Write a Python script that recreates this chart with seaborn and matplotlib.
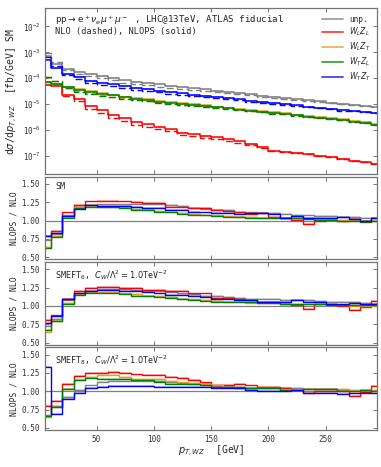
import numpy as np
import matplotlib
matplotlib.use("Agg")
import matplotlib.pyplot as plt
from matplotlib.lines import Line2D
import seaborn as sns

# bin centres [GeV]
pt = [5, 15, 25, 35, 45, 55, 65, 75, 85, 95,
      105, 115, 125, 135, 145, 155, 165, 175, 185, 195,
      205, 215, 225, 235, 245, 255, 265, 275, 285, 295]

labels = ["unp.", "$W_L Z_L$", "$W_L Z_T$", "$W_T Z_L$", "$W_T Z_T$"]
colors = ["grey", "red", "#e0a020", "green", "blue"]

# NLOPS differential cross sections, SM [fb/GeV]
xs_unp = [7.0e-4, 3.6e-4, 2.2e-4, 1.75e-4, 1.45e-4, 1.2e-4, 1.0e-4, 8.3e-5, 7.3e-5, 6.5e-5,
          5.8e-5, 5.1e-5, 4.6e-5, 4.1e-5, 3.7e-5, 3.3e-5, 2.95e-5, 2.65e-5, 2.4e-5, 2.15e-5,
          1.95e-5, 1.75e-5, 1.57e-5, 1.41e-5, 1.27e-5, 1.14e-5, 1.03e-5, 9.3e-6, 8.5e-6, 7.7e-6]
xs_LL = [5.5e-5, 5.0e-5, 2.3e-5, 1.6e-5, 8.5e-6, 5.8e-6, 3.8e-6, 2.9e-6, 2.0e-6, 1.65e-6,
         1.3e-6, 1.05e-6, 7.8e-7, 6.8e-7, 6.0e-7, 5.2e-7, 4.4e-7, 3.6e-7, 2.9e-7, 2.2e-7,
         1.6e-7, 1.45e-7, 1.3e-7, 1.15e-7, 1.0e-7, 9.0e-8, 7.8e-8, 6.5e-8, 5.6e-8, 4.8e-8]
xs_LT = [7.0e-5, 6.0e-5, 4.5e-5, 3.7e-5, 3.1e-5, 2.6e-5, 2.3e-5, 1.95e-5, 1.7e-5, 1.52e-5,
         1.32e-5, 1.2e-5, 1.06e-5, 9.7e-6, 8.9e-6, 8.1e-6, 7.3e-6, 6.6e-6, 5.9e-6, 5.3e-6,
         4.8e-6, 4.35e-6, 3.9e-6, 3.5e-6, 3.2e-6, 2.85e-6, 2.55e-6, 2.25e-6, 2.0e-6, 1.75e-6]
xs_TL = [7.2e-5, 5.9e-5, 4.4e-5, 3.6e-5, 3.0e-5, 2.5e-5, 2.2e-5, 1.85e-5, 1.6e-5, 1.45e-5,
         1.25e-5, 1.15e-5, 1.0e-5, 9.2e-6, 8.4e-6, 7.6e-6, 6.9e-6, 6.2e-6, 5.6e-6, 5.0e-6,
         4.5e-6, 4.1e-6, 3.7e-6, 3.3e-6, 3.0e-6, 2.7e-6, 2.4e-6, 2.1e-6, 1.85e-6, 1.6e-6]
xs_TT = [5.3e-4, 2.4e-4, 1.45e-4, 1.1e-4, 8.0e-5, 6.8e-5, 5.8e-5, 5.0e-5, 4.3e-5, 3.8e-5,
         3.3e-5, 2.9e-5, 2.6e-5, 2.3e-5, 2.1e-5, 1.9e-5, 1.7e-5, 1.53e-5, 1.38e-5, 1.24e-5,
         1.11e-5, 1.0e-5, 9.0e-6, 8.1e-6, 7.3e-6, 6.6e-6, 5.9e-6, 5.4e-6, 5.0e-6, 4.6e-6]

# NLOPS / NLO ratios, SM
sm_unp = [0.73, 0.82, 1.07, 1.18, 1.21, 1.22, 1.22, 1.22, 1.22, 1.22,
          1.22, 1.21, 1.20, 1.17, 1.16, 1.15, 1.14, 1.12, 1.11, 1.10,
          1.10, 1.09, 1.08, 1.07, 1.06, 1.06, 1.05, 1.05, 1.04, 1.03]
sm_LL = [0.79, 0.86, 1.11, 1.21, 1.26, 1.27, 1.27, 1.26, 1.25, 1.24,
         1.24, 1.19, 1.19, 1.17, 1.17, 1.15, 1.13, 1.11, 1.09, 1.10,
         1.05, 1.04, 1.01, 0.95, 1.00, 1.01, 1.00, 1.02, 1.00, 1.03]
sm_LT = [0.64, 0.79, 1.05, 1.19, 1.20, 1.19, 1.19, 1.18, 1.16, 1.15,
         1.13, 1.12, 1.10, 1.09, 1.08, 1.07, 1.06, 1.05, 1.05, 1.04,
         1.04, 1.03, 1.03, 1.03, 1.02, 1.01, 1.01, 1.01, 0.99, 1.00]
sm_TL = [0.63, 0.78, 1.04, 1.17, 1.19, 1.18, 1.18, 1.17, 1.15, 1.14,
         1.12, 1.11, 1.09, 1.08, 1.07, 1.06, 1.05, 1.05, 1.04, 1.04,
         1.04, 1.03, 1.03, 1.02, 1.01, 1.01, 1.00, 1.00, 0.98, 0.99]
sm_TT = [0.79, 0.83, 1.06, 1.16, 1.21, 1.20, 1.20, 1.20, 1.19, 1.17,
         1.17, 1.14, 1.14, 1.12, 1.11, 1.10, 1.10, 1.09, 1.10, 1.10,
         1.09, 1.04, 1.06, 1.03, 1.03, 1.04, 1.05, 1.02, 0.99, 1.03]

# NLOPS / NLO ratios, SMEFT dim-6
d6_unp = [0.73, 0.82, 1.08, 1.18, 1.21, 1.23, 1.23, 1.23, 1.22, 1.21,
          1.20, 1.19, 1.17, 1.16, 1.14, 1.13, 1.12, 1.11, 1.10, 1.09,
          1.09, 1.08, 1.08, 1.08, 1.07, 1.06, 1.06, 1.05, 1.04, 1.03]
d6_LL = [0.81, 0.87, 1.10, 1.20, 1.25, 1.26, 1.26, 1.25, 1.24, 1.22,
         1.22, 1.20, 1.20, 1.17, 1.17, 1.11, 1.11, 1.10, 1.08, 1.05,
         1.06, 1.02, 1.01, 0.96, 1.03, 1.02, 1.00, 0.94, 0.98, 1.07]
d6_LT = [0.65, 0.79, 1.04, 1.16, 1.19, 1.19, 1.19, 1.17, 1.16, 1.14,
         1.13, 1.12, 1.10, 1.09, 1.08, 1.07, 1.06, 1.05, 1.04, 1.04,
         1.04, 1.03, 1.03, 1.02, 1.02, 1.01, 1.01, 1.00, 1.00, 1.00]
d6_TL = [0.67, 0.79, 1.03, 1.15, 1.18, 1.17, 1.17, 1.16, 1.14, 1.13,
         1.12, 1.11, 1.09, 1.08, 1.07, 1.06, 1.06, 1.05, 1.05, 1.04,
         1.04, 1.03, 1.02, 1.02, 1.02, 1.01, 1.01, 1.01, 1.01, 1.01]
d6_TT = [0.77, 0.86, 1.09, 1.17, 1.20, 1.22, 1.22, 1.21, 1.21, 1.19,
         1.17, 1.15, 1.15, 1.13, 1.12, 1.10, 1.10, 1.08, 1.08, 1.06,
         1.05, 1.05, 1.08, 1.06, 1.05, 1.03, 1.02, 1.04, 1.02, 1.03]

# NLOPS / NLO ratios, SMEFT dim-8
d8_unp = [0.67, 0.80, 0.92, 1.02, 1.08, 1.13, 1.14, 1.14, 1.14, 1.14,
          1.14, 1.13, 1.11, 1.10, 1.10, 1.07, 1.06, 1.05, 1.05, 1.04,
          1.04, 1.04, 1.04, 1.03, 1.03, 1.03, 1.02, 1.01, 1.01, 1.00]
d8_LL = [0.80, 0.87, 1.10, 1.21, 1.25, 1.25, 1.26, 1.25, 1.23, 1.22,
         1.22, 1.19, 1.18, 1.16, 1.12, 1.09, 1.09, 1.10, 1.08, 1.06,
         1.06, 1.05, 1.02, 0.97, 1.01, 1.01, 1.01, 0.94, 0.99, 1.07]
d8_LT = [0.65, 0.78, 1.03, 1.16, 1.20, 1.22, 1.22, 1.19, 1.17, 1.17,
         1.17, 1.14, 1.12, 1.11, 1.10, 1.08, 1.06, 1.05, 1.05, 1.04,
         1.04, 1.03, 1.03, 1.03, 1.03, 1.03, 1.03, 1.02, 1.02, 1.02]
d8_TL = [0.66, 0.78, 1.03, 1.15, 1.18, 1.17, 1.17, 1.17, 1.15, 1.15,
         1.12, 1.10, 1.10, 1.10, 1.08, 1.06, 1.06, 1.06, 1.04, 1.04,
         1.04, 1.02, 1.02, 1.03, 1.03, 1.03, 1.01, 1.01, 1.02, 1.01]
d8_TT = [1.33, 0.69, 0.90, 0.98, 1.04, 1.06, 1.07, 1.07, 1.07, 1.07,
         1.06, 1.06, 1.06, 1.06, 1.06, 1.04, 1.04, 1.04, 1.02, 1.00,
         1.00, 1.00, 1.02, 0.98, 0.98, 0.98, 0.96, 0.97, 0.97, 0.97]

xs_all = [xs_unp, xs_LL, xs_LT, xs_TL, xs_TT]
ratio_panels = [
    ("SM", [sm_unp, sm_LL, sm_LT, sm_TL, sm_TT]),
    (r"SMEFT$_6$, $C_W/\Lambda^2 = 1.0$TeV$^{-2}$", [d6_unp, d6_LL, d6_LT, d6_TL, d6_TT]),
    (r"SMEFT$_8$, $C_W/\Lambda^2 = 1.0$TeV$^{-2}$", [d8_unp, d8_LL, d8_LT, d8_TL, d8_TT]),
]

sns.set_style("ticks")
plt.rcParams["font.family"] = ["DejaVu Sans Mono", "DejaVu Sans"]
plt.rcParams["mathtext.fontset"] = "dejavusans"
edge = "0.45"


def style_axis(ax):
    for sp in ax.spines.values():
        sp.set_color(edge)
        sp.set_linewidth(0.9)
    ax.tick_params(direction="in", top=True, right=True, length=3, width=0.7,
                   color=edge, labelsize=5.5, labelcolor="0.2")
    ax.tick_params(which="minor", left=False, right=False, top=False, bottom=False)


fig, axes = plt.subplots(4, 1, figsize=(3.81, 4.67), dpi=100, sharex=True,
                         gridspec_kw={"height_ratios": [2, 1, 1, 1]})
fig.subplots_adjust(left=0.118, right=0.99, top=0.982, bottom=0.079, hspace=0.025)

# main panel
ax = axes[0]
for xs, rat, col in zip(xs_all, ratio_panels[0][1], colors):
    nlops = np.array(xs)
    nlo = nlops / np.array(rat)
    ax.fill_between(pt, nlops * 0.93, nlops * 1.07, step="mid", color=col, alpha=0.25, lw=0)
    sns.lineplot(x=pt, y=nlops, ax=ax, color=col, lw=1.1, drawstyle="steps-mid",
                 estimator=None, legend=False)
    sns.lineplot(x=pt, y=nlo, ax=ax, color=col, lw=1.0, drawstyle="steps-mid",
                 estimator=None, legend=False, linestyle=(0, (5, 2.5)))
ax.set_yscale("log")
ax.set_ylim(2e-8, 5e-2)
ax.set_yticks([1e-7, 1e-6, 1e-5, 1e-4, 1e-3, 1e-2])
ax.set_ylabel(r"d$\sigma$/d$p_{T,WZ}$  [fb/GeV] SM", fontsize=7, labelpad=1)
ax.text(0.03, 0.97, r"pp$\rightarrow$e$^+\nu_e\mu^+\mu^-$ , LHC@13TeV, ATLAS fiducial",
        transform=ax.transAxes, fontsize=6.6, va="top", ha="left", color="0.15")
ax.text(0.03, 0.89, "NLO (dashed), NLOPS (solid)",
        transform=ax.transAxes, fontsize=6.2, va="top", ha="left", color="0.15")
handles = [Line2D([], [], color=c, lw=1.3, alpha=0.75) for c in colors]
ax.legend(handles, labels, loc="upper right", frameon=False, fontsize=5.6,
          handlelength=2.6, labelspacing=0.3, borderaxespad=0.4)
style_axis(ax)

# ratio panels
for ax, (title, rats) in zip(axes[1:], ratio_panels):
    ax.axhline(1.0, color="0.5", lw=0.9)
    for rat, col in zip(rats, colors):
        r = np.array(rat)
        ax.fill_between(pt, r - 0.012, r + 0.012, step="mid", color=col, alpha=0.25, lw=0)
        sns.lineplot(x=pt, y=r, ax=ax, color=col, lw=1.0, drawstyle="steps-mid",
                     estimator=None, legend=False)
    ax.set_ylim(0.47, 1.6)
    ax.set_yticks([0.5, 0.75, 1.0, 1.25, 1.5])
    ax.set_yticklabels(["0.50", "0.75", "1.00", "1.25", "1.50"])
    ax.set_ylabel("NLOPS / NLO", fontsize=5.8, labelpad=2)
    ax.text(0.03, 0.93, title, transform=ax.transAxes, fontsize=6,
            va="top", ha="left", color="0.15")
    style_axis(ax)

axes[-1].set_xlim(5, 295)
axes[-1].set_xticks([50, 100, 150, 200, 250])
axes[-1].set_xlabel(r"$p_{T,WZ}$  [GeV]", fontsize=7, labelpad=0)
fig.align_ylabels(axes)

fig.savefig("out.png", dpi=100)
